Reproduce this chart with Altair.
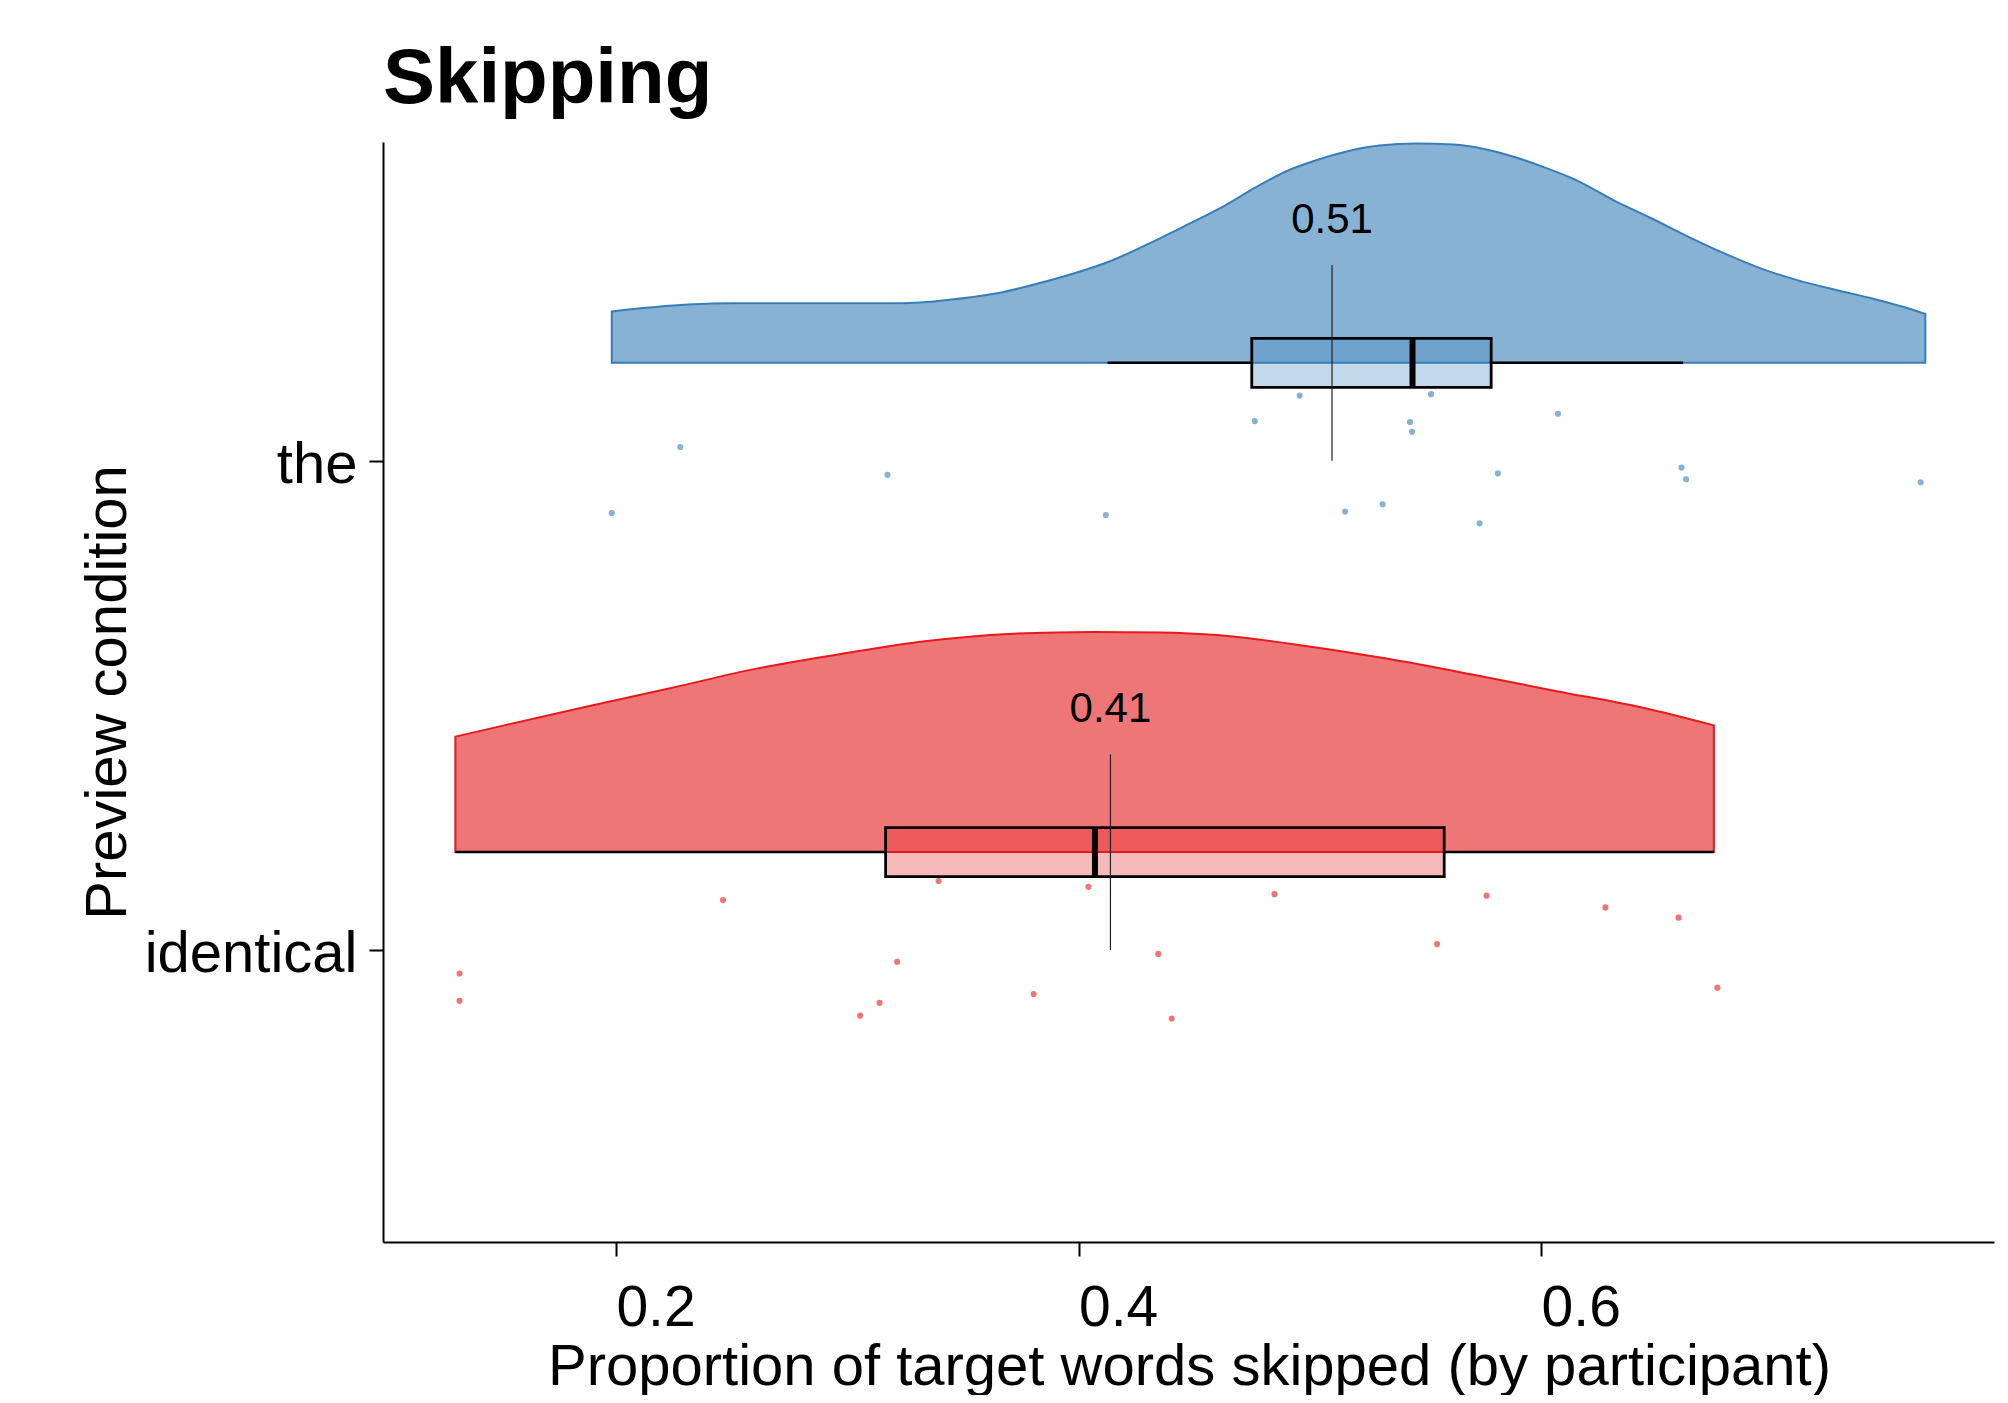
import altair as alt
import pandas as pd

FONT = "Liberation Sans"

# ---------------- data ----------------
conditions = ["the", "identical"]
cond_colors = ["#377EB8", "#E41A1C"]
cond_index = [2, 1]

# half-violin outlines: x value and density height (in category units)
the_violin_x = [0.1982, 0.2310, 0.2507, 0.3238, 0.3534, 0.3648, 0.3808, 0.3968, 0.4128,
                0.4288, 0.4448, 0.4608, 0.4768, 0.4901, 0.5034, 0.5168, 0.5301, 0.5461,
                0.5621, 0.5754, 0.5888, 0.5994, 0.6154, 0.6314, 0.6474, 0.6635, 0.6795,
                0.6955, 0.7115, 0.7275, 0.7435, 0.7568, 0.7661]
the_violin_h = [0.105, 0.119, 0.122, 0.122, 0.134, 0.142, 0.160, 0.181, 0.206,
                0.240, 0.277, 0.315, 0.359, 0.392, 0.415, 0.433, 0.444, 0.448,
                0.446, 0.437, 0.420, 0.403, 0.373, 0.332, 0.296, 0.258, 0.223,
                0.192, 0.168, 0.149, 0.131, 0.114, 0.100]
identical_violin_x = [0.1306, 0.1517, 0.1881, 0.2244, 0.2608, 0.2973, 0.3336, 0.3700, 0.4064,
                      0.4355, 0.4610, 0.4974, 0.5338, 0.5702, 0.6067, 0.6431, 0.6747]
identical_violin_h = [0.236, 0.259, 0.298, 0.336, 0.375, 0.405, 0.431, 0.446, 0.450,
                      0.449, 0.443, 0.422, 0.395, 0.363, 0.329, 0.296, 0.259]

# participant proportions and their vertical jitter
the_points = [0.4956, 0.5524, 0.4762, 0.5433, 0.5442, 0.6073, 0.2278, 0.3174, 0.5813,
              0.6607, 0.6627, 0.7641, 0.1982, 0.4118, 0.5153, 0.5315, 0.5734]
the_jitter = [0.133, 0.136, 0.081, 0.079, 0.059, 0.096, 0.028, -0.029, -0.026,
              -0.014, -0.038, -0.044, -0.107, -0.111, -0.104, -0.089, -0.128]
identical_points = [0.3395, 0.4043, 0.2463, 0.4847, 0.5764, 0.6278, 0.6594, 0.5550, 0.4345,
                    0.3216, 0.1324, 0.1324, 0.3140, 0.3806, 0.3056, 0.4403, 0.6762]
identical_jitter = [0.141, 0.129, 0.102, 0.114, 0.111, 0.087, 0.066, 0.012, -0.008,
                    -0.024, -0.048, -0.104, -0.108, -0.090, -0.134, -0.140, -0.077]

# box-plot summaries and means
box_q1 = [0.4749, 0.3166]
box_median = [0.5444, 0.4071]
box_q3 = [0.5784, 0.5581]
whisker_low = [0.4126, 0.1306]
whisker_high = [0.6614, 0.6747]
cond_mean = [0.5096, 0.4138]

x_ticks = [0.2, 0.4, 0.6]

# ---------------- tables ----------------
NUDGE = 0.2
BOX_HALF = 0.05

violin_rows = []
for cond, idx, xs, hs in [("the", 2, the_violin_x, the_violin_h),
                          ("identical", 1, identical_violin_x, identical_violin_h)]:
    for x, h in zip(xs, hs):
        violin_rows.append({"cond": cond, "x": x, "h": h, "idx": idx})
violin_df = pd.DataFrame(violin_rows)

point_rows = []
for cond, idx, xs, js in [("the", 2, the_points, the_jitter),
                          ("identical", 1, identical_points, identical_jitter)]:
    for x, j in zip(xs, js):
        point_rows.append({"cond": cond, "x": x, "j": j, "idx": idx})
points_df = pd.DataFrame(point_rows)

stats_df = pd.DataFrame({
    "cond": conditions, "idx": cond_index, "q1": box_q1, "med": box_median,
    "q3": box_q3, "lo": whisker_low, "hi": whisker_high, "mean": cond_mean,
})

# ---------------- scales & axes ----------------
color_scale = alt.Scale(domain=conditions, range=cond_colors)
x_scale = alt.Scale(domain=[0.0993, 0.7958], nice=False, zero=False)
y_scale = alt.Scale(domain=[0.4032, 2.6513], nice=False, zero=False)

x_axis = alt.Axis(
    values=x_ticks, format=".1f", title="Proportion of target words skipped (by participant)",
    grid=False, domainColor="black", domainWidth=2, tickColor="black", tickWidth=2, tickSize=14,
    labelFont=FONT, labelFontSize=57, labelColor="black", labelBaseline="alphabetic",
    labelAlign="left",
    labelPadding=69, labelFlush=False, labelOverlap=False,
    titleFont=FONT, titleFontSize=58, titleFontWeight="normal", titleColor="black",
    titleBaseline="alphabetic", titleX=806, titleY=142, titleAnchor="middle", titleAlign="center",
)
y_axis = alt.Axis(
    values=[1, 2], labelExpr="datum.value == 1 ? 'identical' : 'the'", title="Preview condition",
    grid=False, domainColor="black", domainWidth=2, tickColor="black", tickWidth=2, tickSize=14,
    labelFont=FONT, labelFontSize=58, labelColor="black", labelBaseline="alphabetic",
    labelOffset=22, labelPadding=12, labelOverlap=False, labelFlush=False, labelLimit=500,
    titleFont=FONT, titleFontSize=58, titleFontWeight="normal", titleColor="black",
    titleAngle=270, titleBaseline="alphabetic", titleAlign="center", titleX=-258, titleY=550,
)


def X(field):
    return alt.X(field, scale=x_scale, axis=x_axis)


def Y(field):
    return alt.Y(field, scale=y_scale, axis=y_axis)


base_v = alt.Chart(violin_df).transform_calculate(
    base=f"datum.idx + {NUDGE}", top=f"datum.idx + {NUDGE} + datum.h"
)
violin = base_v.mark_area(fillOpacity=0.6, strokeWidth=2, interpolate="monotone").encode(
    x=X("x:Q"),
    y=Y("top:Q"),
    y2="base:Q",
    fill=alt.Fill("cond:N", scale=color_scale, legend=None),
    stroke=alt.Stroke("cond:N", scale=color_scale, legend=None),
)

points = alt.Chart(points_df).transform_calculate(
    yy="datum.idx + datum.j"
).mark_circle(size=38, opacity=0.6).encode(
    x=X("x:Q"),
    y=Y("yy:Q"),
    color=alt.Color("cond:N", scale=color_scale, legend=None),
)

stats = alt.Chart(stats_df).transform_calculate(
    yc=f"datum.idx + {NUDGE}",
    ylo=f"datum.idx + {NUDGE} - {BOX_HALF}",
    yhi=f"datum.idx + {NUDGE} + {BOX_HALF}",
    ymean_top="datum.idx + 0.4",
    ylab="datum.idx + 0.5",
    label="format(datum.mean, '.2f')",
)

whisk_lo = stats.mark_rule(color="black", strokeWidth=2.5).encode(
    x=X("lo:Q"), x2="q1:Q", y=Y("yc:Q"),
)
whisk_hi = stats.mark_rule(color="black", strokeWidth=2.5).encode(
    x=X("q3:Q"), x2="hi:Q", y=Y("yc:Q"),
)
box = stats.mark_rect(fillOpacity=0.3, stroke="black", strokeWidth=2.8).encode(
    x=X("q1:Q"), x2="q3:Q",
    y=Y("ylo:Q"), y2="yhi:Q",
    fill=alt.Fill("cond:N", scale=color_scale, legend=None),
)
median = stats.mark_rule(color="black", strokeWidth=6).encode(
    x=X("med:Q"), y=Y("ylo:Q"), y2="yhi:Q",
)
mean_line = stats.mark_rule(color="#222222", strokeWidth=1.2).encode(
    x=X("mean:Q"), y=Y("idx:Q"), y2="ymean_top:Q",
)
mean_text = stats.mark_text(font=FONT, fontSize=42, color="black", baseline="middle",
                            align="center", dy=4).encode(
    x=X("mean:Q"), y=Y("ylab:Q"), text="label:N",
)

chart = alt.layer(
    violin, points, whisk_lo, whisk_hi, box, median, mean_line, mean_text
).properties(
    width=1611, height=1100,
    title=alt.TitleParams(text="Skipping", anchor="start", frame="group", font=FONT,
                          fontSize=78, fontWeight="bold", color="black",
                          baseline="alphabetic", offset=41, dy=82),
    autosize=alt.AutoSizeParams(type="none"),
    padding={"left": 375, "top": 134, "right": 6, "bottom": 153},
).configure(font=FONT).configure_view(strokeWidth=0, stroke="transparent")

chart.save("out.html", embed_options={"renderer": "svg", "actions": False})
